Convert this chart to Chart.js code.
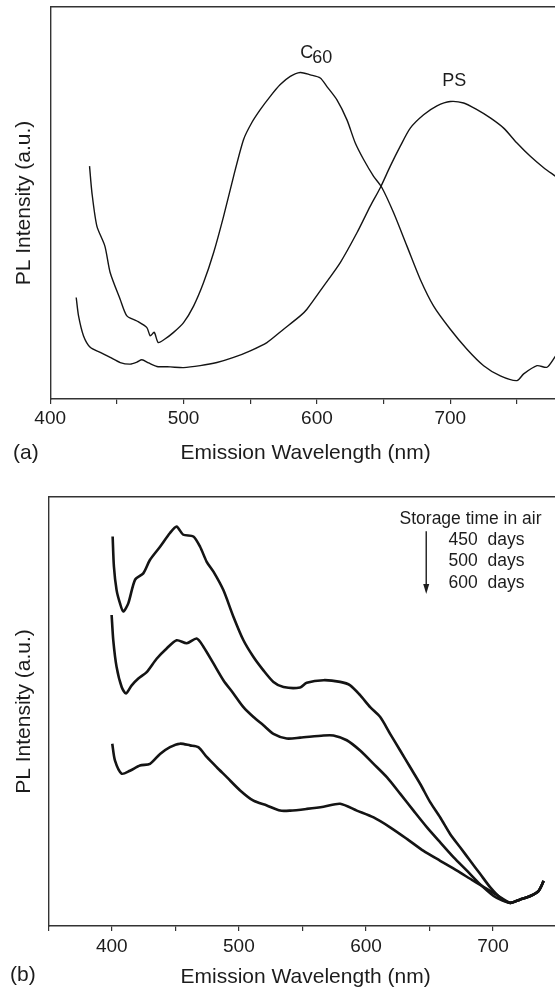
<!DOCTYPE html>
<html>
<head>
<meta charset="utf-8">
<script src="https://cdn.jsdelivr.net/npm/chart.js@4/dist/chart.umd.min.js"></script>
<style>
  html, body { margin: 0; padding: 0; background: #fff; }
  body { width: 555px; height: 988px; overflow: hidden; position: relative; }
  canvas { position: absolute; left: 0; }
  #chartA { top: 0; }
  #chartB { top: 470px; }
</style>
</head>
<body>
<canvas id="chartA" width="570" height="470"></canvas>
<canvas id="chartB" width="570" height="520"></canvas>
<script>
// panel (a): C60 and PS emission
const c60Wavelength = [429.5, 431.3, 435, 441, 445, 452.5, 457.5, 465, 472.5, 475, 478, 481, 486, 492.5, 500,
  507.5, 515, 522.5, 530, 537.5, 545, 551, 557.5, 565, 572.5, 580, 587.5, 595, 602.5, 607.5, 615, 622.5,
  628.75, 635, 642.5, 648.75, 657.5, 667.5, 677.5, 687.5, 700, 712.5, 725, 737.5, 750, 755, 765, 772.5, 779, 783];
const c60Intensity = [59.4, 52.6, 44.1, 39, 32.2, 25.4, 21.2, 19.9, 18.2, 16.1, 17.0, 14.4, 15.3, 17, 19.5,
  23.7, 29.7, 37.3, 46.6, 56.8, 66.2, 70.4, 73.8, 77.2, 80.2, 82.3, 83.3, 82.7, 81.9, 79.7, 76.3, 71.2,
  65.3, 61.1, 56.8, 53.9, 47.5, 39, 30.5, 23.7, 17.8, 12.7, 8.5, 5.9, 4.7, 6.4, 8.5, 8.1, 11, 12.5];

const psWavelength = [419.5, 421.25, 425, 430, 437.5, 445, 452.5, 460, 465, 468.75, 473.75, 480, 490, 500,
  512.5, 525, 537.5, 550, 562.5, 575, 587.5, 592.5, 605, 617.5, 630, 640, 647.5, 655, 662.5, 670, 680,
  690, 700, 710, 720, 730, 740, 750, 760, 770, 779, 783];
const psIntensity = [25.9, 21.2, 16.1, 13.2, 11.9, 10.6, 9.3, 8.9, 9.4, 10, 9.2, 8.3, 8.2, 8,
  8.5, 9.3, 10.6, 12.3, 14.4, 17.8, 21.2, 22.9, 28.8, 34.8, 42.4, 49.2, 53.9, 59.4, 64.5, 69.1, 72.5,
  74.8, 75.9, 75.5, 73.8, 71.7, 69.1, 65.3, 61.9, 59, 56.8, 55.8];

const ticksA = [400, 450, 500, 550, 600, 650, 700, 750];
const labelsA = [400, 500, 600, 700];

// panel (b): storage time in air
const d450Wavelength = [400.7, 401.7, 403.8, 406.5, 409, 413, 418.3, 424.8, 430, 438, 445.8, 451, 456.3,
  464.2, 469.5, 474.7, 480, 487.8, 495.7, 503.6, 511.5, 519.3, 527.2, 535.1, 548.2, 553.4, 566.6, 579.7,
  587.6, 595.4, 603.3, 611.2, 619, 626.9, 634.8, 642.7, 650.6, 658.4, 666.3, 674.2, 682, 689.9, 697.8,
  705.7, 713.6, 721.4, 729.3, 735.9, 739.8];
const d450Intensity = [90.8, 83.8, 78.3, 75.2, 73.3, 75.2, 80.7, 82.2, 85.3, 88.4, 91.6, 93.1, 91.2,
  90.8, 88.4, 84.9, 82.6, 78.3, 72.1, 66.6, 62.7, 59.6, 56.9, 55.7, 55.6, 56.7, 57.3, 56.9,
  56.1, 53.8, 51, 48.7, 44.8, 40.9, 37, 33.1, 28.8, 25.3, 21.4, 18.3, 15.2, 12.1, 9,
  6.6, 5.4, 6.2, 7, 8.2, 10.5];

const d500Wavelength = [399.9, 401.2, 403.8, 407.8, 411.2, 415.7, 420.9, 427.5, 435.3, 443.2, 451.1, 459,
  466.8, 472.1, 480, 487.8, 495.7, 503.6, 511.5, 519.3, 527.2, 537.7, 548.2, 566.6, 574.4, 584.9, 595.4,
  606, 616.4, 627, 637.4, 648, 658.4, 669, 679.4, 689.9, 700.4, 707, 713.6, 721.4, 729.3, 735.9, 739.8];
const d500Intensity = [72.5, 66.6, 60.4, 55.7, 54.2, 56.1, 57.7, 59.2, 62.3, 64.7, 66.6, 65.9,
  67, 65.1, 61.2, 57.3, 54.2, 51, 48.7, 46.8, 44.8, 43.7, 43.9, 44.4, 44.4, 43.3, 40.9,
  37.8, 34.7, 30.8, 26.9, 23, 19.5, 16, 12.9, 9.7, 7, 6, 5.4, 6.2, 7, 8.2, 10.5];

const d600Wavelength = [400.4, 402.5, 407.8, 414.3, 422.2, 430.1, 438, 445.8, 453.7, 461.6, 468.1, 474.7,
  482.6, 490.5, 501, 511.5, 522, 532.5, 540.3, 553.4, 566.6, 579.7, 592.8, 606, 619, 632.2, 645.3, 658.4,
  671.6, 684.7, 697.8, 708.3, 713.6, 721.4, 729.3, 735.9, 739.8];
const d600Intensity = [42.5, 38.6, 35.5, 36.2, 37.4, 37.8, 40.1, 41.7, 42.5, 42.1, 41.7, 39.4,
  37, 34.7, 31.6, 29.2, 28.1, 26.9, 26.9, 27.3, 27.8, 28.5, 26.9, 25.3, 23, 20.3, 17.5, 15.2,
  12.9, 10.5, 8.2, 6.2, 5.4, 6.2, 7, 8.2, 10.5];

const ticksB = [350, 400, 450, 500, 550, 600, 650, 700, 750];
const labelsB = [400, 500, 600, 700];
const storageLabels = ["Storage time in air", "450  days", "500  days", "600  days"];

const FONT = '"Liberation Sans", Arial, Helvetica, sans-serif';
const INK = "#1c1c1c";
const AXIS = "#333";

const toPoints = (xs, ys) => xs.map((x, i) => ({ x, y: ys[i] }));

const lineSet = (data, width) => ({
  data,
  borderColor: "#141414",
  borderWidth: width,
  pointRadius: 0,
  tension: 0.25,
  fill: false,
});

// free text and the arrow, placed through the chart's scales
const panelText = {
  id: "panelText",
  afterDraw(chart, args, opts) {
    const { ctx, scales } = chart;
    const sx = scales.x, sy = scales.y;
    ctx.save();
    ctx.fillStyle = INK;
    ctx.textBaseline = "middle";
    ctx.textAlign = "left";
    (opts.items || []).forEach(t => {
      ctx.font = t.size + "px " + FONT;
      const px = t.px !== undefined ? t.px : sx.getPixelForValue(t.x);
      const py = t.py !== undefined ? t.py : sy.getPixelForValue(t.y);
      ctx.fillText(t.text, px, py);
    });
    if (opts.arrow) {
      const a = opts.arrow;
      const ax = sx.getPixelForValue(a.x);
      const y1 = sy.getPixelForValue(a.from);
      const y2 = sy.getPixelForValue(a.to);
      ctx.strokeStyle = INK;
      ctx.lineWidth = 1.4;
      ctx.beginPath();
      ctx.moveTo(ax, y1);
      ctx.lineTo(ax, y2 - 8);
      ctx.stroke();
      ctx.beginPath();
      ctx.moveTo(ax - 3, y2 - 10);
      ctx.lineTo(ax + 3, y2 - 10);
      ctx.lineTo(ax, y2);
      ctx.closePath();
      ctx.fill();
    }
    ctx.restore();
  },
};

function makeScales(min, max, tickList, labelList, yTitlePad, labelPad, xTitlePad) {
  return {
    x: {
      type: "linear",
      position: "bottom",
      min, max,
      afterBuildTicks: axis => { axis.ticks = tickList.map(v => ({ value: v })); },
      ticks: {
        autoSkip: false,
        maxRotation: 0,
        padding: labelPad,
        color: INK,
        font: { family: FONT, size: 19 },
        callback: v => (labelList.includes(v) ? String(v) : ""),
      },
      grid: { drawOnChartArea: false, drawTicks: true, tickLength: 5, color: AXIS, lineWidth: 1.2 },
      border: { display: true, color: AXIS, width: 1.4 },
      title: {
        display: true,
        text: "Emission Wavelength (nm)",
        color: INK,
        font: { family: FONT, size: 21 },
        padding: xTitlePad,
      },
    },
    xTop: {
      type: "linear",
      position: "top",
      min, max,
      ticks: { display: false },
      grid: { display: false, drawTicks: false },
      border: { display: true, color: AXIS, width: 1.4 },
    },
    y: {
      min: 0, max: 100,
      ticks: { display: false },
      grid: { display: false, drawTicks: false },
      border: { display: true, color: AXIS, width: 1.4 },
      title: {
        display: true,
        text: "PL Intensity (a.u.)",
        color: INK,
        font: { family: FONT, size: 21 },
        padding: yTitlePad,
      },
    },
  };
}

new Chart(document.getElementById("chartA"), {
  type: "line",
  data: {
    datasets: [
      lineSet(toPoints(c60Wavelength, c60Intensity), 1.4),
      lineSet(toPoints(psWavelength, psIntensity), 1.4),
    ],
  },
  options: {
    responsive: false,
    animation: false,
    devicePixelRatio: 1,
    layout: { padding: { top: 7, right: 9, left: 0, bottom: 0 } },
    scales: makeScales(400, 783, ticksA, labelsA, { top: 12, bottom: 13 }, 3, { top: 8, bottom: 4 }),
    plugins: {
      legend: { display: false },
      tooltip: { enabled: false },
      panelText: {
        items: [
          { text: "C", x: 587.5, y: 88.3, size: 18 },
          { text: "60", x: 596.5, y: 87.0, size: 18 },
          { text: "PS", x: 694, y: 81, size: 18 },
          { text: "(a)", px: 13, py: 453, size: 21 },
        ],
      },
    },
  },
  plugins: [panelText],
});

new Chart(document.getElementById("chartB"), {
  type: "line",
  data: {
    datasets: [
      lineSet(toPoints(d450Wavelength, d450Intensity), 2.6),
      lineSet(toPoints(d500Wavelength, d500Intensity), 2.6),
      lineSet(toPoints(d600Wavelength, d600Intensity), 2.6),
    ],
  },
  options: {
    responsive: false,
    animation: false,
    devicePixelRatio: 1,
    layout: { padding: { top: 27, right: 7, left: 0, bottom: 0 } },
    scales: makeScales(350, 755, ticksB, labelsB, { top: 12, bottom: 11 }, 4, { top: 3, bottom: 0 }),
    plugins: {
      legend: { display: false },
      tooltip: { enabled: false },
      panelText: {
        items: [
          { text: storageLabels[0], x: 626.4, y: 94.9, size: 17.5 },
          { text: storageLabels[1], x: 665, y: 89.9, size: 17.5 },
          { text: storageLabels[2], x: 665, y: 85, size: 17.5 },
          { text: storageLabels[3], x: 665, y: 80, size: 17.5 },
          { text: "(b)", px: 10, py: 505, size: 21 },
        ],
        arrow: { x: 647.4, from: 92, to: 77.4 },
      },
    },
  },
  plugins: [panelText],
});
</script>
</body>
</html>
